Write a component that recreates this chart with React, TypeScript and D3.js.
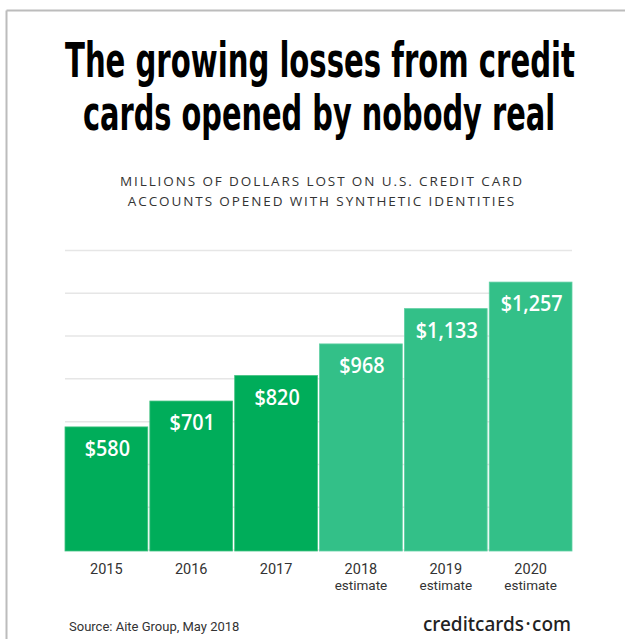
import React from "react";
import * as d3 from "d3";

const categories = ["2015", "2016", "2017", "2018", "2019", "2020"];
const subLabels = ["", "", "", "estimate", "estimate", "estimate"];
const values = [580, 701, 820, 968, 1133, 1257];
const isEstimate = [false, false, false, true, true, true];
const titleLines = ["The growing losses from credit", "cards opened by nobody real"];
const subtitleLines = [
  "MILLIONS OF DOLLARS LOST ON U.S. CREDIT CARD",
  "ACCOUNTS OPENED WITH SYNTHETIC IDENTITIES",
];
const gridTicks = [0, 200, 400, 600, 800, 1000, 1200, 1400];

const W = 625;
const H = 639;

export default function App() {
  const x = d3
    .scaleBand<string>()
    .domain(categories)
    .range([65, 572])
    .paddingInner(0.025)
    .paddingOuter(0);
  const y = d3.scaleLinear().domain([0, 1400]).range([551, 251.5]);
  const fmt = d3.format(",");

  return (
    <svg
      width={W}
      height={H}
      style={{ position: "absolute", left: 0, top: 0, background: "#fff" }}
    >
      <rect x={0} y={0} width={W} height={H} fill="#fff" />
      {/* frame */}
      <line x1={6.5} y1={10.5} x2={W} y2={10.5} stroke="#bcbcbc" strokeWidth={2} />
      <line x1={6.5} y1={10.5} x2={6.5} y2={H} stroke="#bcbcbc" strokeWidth={2} />

      {/* title */}
      <g
        fontFamily="'Liberation Sans Narrow', 'DejaVu Sans Condensed', Roboto, sans-serif"
        fontWeight={700}
        fill="#000"
        textAnchor="middle"
      >
        <text
          transform="translate(320,77) scale(1,1.85)"
          fontSize={26}
          textLength={510}
          lengthAdjust="spacingAndGlyphs"
        >
          {titleLines[0]}
        </text>
        <text
          transform="translate(319,130) scale(1,1.85)"
          fontSize={26}
          textLength={472}
          lengthAdjust="spacingAndGlyphs"
        >
          {titleLines[1]}
        </text>
      </g>

      {/* subtitle */}
      <g fontFamily="'Open Sans', sans-serif" fontSize={13.5} fill="#333" textAnchor="middle" letterSpacing={1.9}>
        <text x={322} y={186}>{subtitleLines[0]}</text>
        <text x={322} y={206}>{subtitleLines[1]}</text>
      </g>

      {/* gridlines */}
      <g>
        {gridTicks.map((t) => (
          <line
            key={t}
            x1={65}
            x2={572}
            y1={y(t) - 1}
            y2={y(t) - 1}
            stroke="#e6e6e6"
            strokeWidth={1.5}
          />
        ))}
      </g>

      {/* bars */}
      <g>
        {categories.map((c, i) => (
          <rect
            key={c}
            x={x(c)!}
            y={y(values[i])}
            width={x.bandwidth()}
            height={y(0) - y(values[i])}
            fill={isEstimate[i] ? "#33c088" : "#00ad5a"}
            stroke={isEstimate[i] ? "#5fcfa3" : "#3fc07f"}
            strokeWidth={0.8}
          />
        ))}
      </g>

      {/* value labels */}
      <g fontFamily="'Open Sans', sans-serif" fontWeight={600} fontSize={22} fill="#fff" textAnchor="middle">
        {categories.map((c, i) => (
          <text
            key={c}
            transform={`translate(${x(c)! + x.bandwidth() / 2 + 1},${y(values[i]) + 29}) scale(0.9,1)`}
          >
            {"$" + fmt(values[i])}
          </text>
        ))}
      </g>

      {/* axis labels */}
      <g fontFamily="Roboto, sans-serif" fill="#333" textAnchor="middle">
        {categories.map((c, i) => (
          <g key={c}>
            <text x={x(c)! + x.bandwidth() / 2} y={573.5} fontSize={14.5}>
              {c}
            </text>
            {subLabels[i] && (
              <text x={x(c)! + x.bandwidth() / 2} y={590} fontSize={13.5}>
                {subLabels[i]}
              </text>
            )}
          </g>
        ))}
      </g>

      {/* footer */}
      <text x={69} y={631} fontFamily="Roboto, sans-serif" fontSize={13} fill="#333">
        Source: Aite Group, May 2018
      </text>
      <text
        x={571}
        y={631}
        fontFamily="'Noto Sans', sans-serif"
        fontWeight={500}
        fontSize={19}
        fill="#222"
        textAnchor="end"
      >
        creditcards
        <tspan fontSize={11} dy={-3} dx={2}>•</tspan>
        <tspan dy={3} dx={2}>com</tspan>
      </text>
    </svg>
  );
}
